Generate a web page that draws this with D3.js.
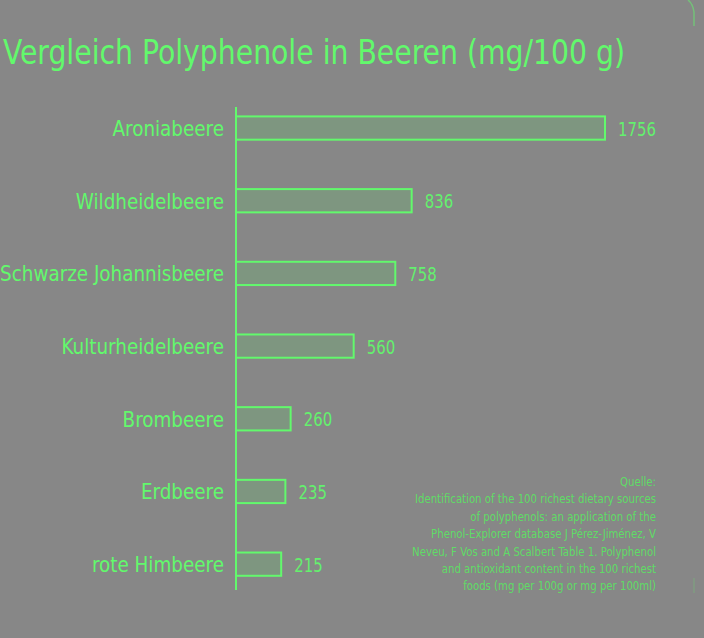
<!DOCTYPE html>
<html><head><meta charset="utf-8">
<script src="https://cdn.jsdelivr.net/npm/d3@7"></script>
<style>
html,body{margin:0;padding:0;background:#878787;}
svg{display:block;}
text{font-family:"DejaVu Sans Condensed","DejaVu Sans",sans-serif;}
</style></head>
<body>
<svg id="chart" width="704" height="638"></svg>
<script>
const title = "Vergleich Polyphenole in Beeren (mg/100 g)";
const categories = ["Aroniabeere","Wildheidelbeere","Schwarze Johannisbeere","Kulturheidelbeere","Brombeere","Erdbeere","rote Himbeere"];
const values = [1756, 836, 758, 560, 260, 235, 215];
const sourceLines = [
  "Quelle:",
  "Identification of the 100 richest dietary sources",
  "of polyphenols: an application of the",
  "Phenol-Explorer database J Pérez-Jiménez, V",
  "Neveu, F Vos and A Scalbert Table 1. Polyphenol",
  "and antioxidant content in the 100 richest",
  "foods (mg per 100g or mg per 100ml)"
];

const green = "#62f96c";
const svg = d3.select("#chart");
const x0 = 236;
const x = d3.scaleLinear().domain([0, 1756]).range([x0, 605]);
const y = d3.scaleBand().domain(categories).range([91.7, 600.5]).paddingInner(0.68).paddingOuter(0.34);

// squeeze a selection of texts horizontally so that the reference text fits the given width
function squeeze(sel, refNode, w){
  const f = w / refNode.getComputedTextLength();
  sel.each(function(){ const n=this; const l=n.getComputedTextLength(); d3.select(n).attr("textLength", l*f).attr("lengthAdjust","spacingAndGlyphs"); });
}

// decorative frame marks
svg.append("path").attr("d","M688,0 Q693,4 694,12 L694,26").attr("fill","none").attr("stroke",green).attr("stroke-opacity",0.5).attr("stroke-width",1.5);
svg.append("line").attr("x1",694).attr("x2",694).attr("y1",578).attr("y2",593).attr("stroke",green).attr("stroke-opacity",0.3);

const t = svg.append("text").attr("x",3).attr("y",64).attr("font-size",33).attr("fill",green).text(title);
squeeze(t, t.node(), 622);

// bars
svg.selectAll("rect.bar").data(values).join("rect").attr("class","bar")
  .attr("x", x0).attr("y",(d,i)=>y(categories[i]))
  .attr("width", d=>x(d)-x0).attr("height", y.bandwidth())
  .attr("fill","#7e9680").attr("stroke",green).attr("stroke-width",2);

// axis line
svg.append("line").attr("x1",x0).attr("x2",x0).attr("y1",107).attr("y2",590).attr("stroke",green).attr("stroke-width",2);

// category labels
const cl = svg.selectAll("text.cat").data(categories).join("text").attr("class","cat")
  .attr("x",224).attr("y",d=>y(d)+y.bandwidth()/2).attr("dy","0.36em")
  .attr("text-anchor","end").attr("font-size",22).attr("fill",green).text(d=>d);
squeeze(cl, cl.filter(d=>d==="Schwarze Johannisbeere").node(), 224);

// value labels
const vl = svg.selectAll("text.val").data(values).join("text").attr("class","val")
  .attr("x",d=>x(d)+13).attr("y",(d,i)=>y(categories[i])+y.bandwidth()/2).attr("dy","0.38em")
  .attr("font-size",20).attr("fill",green).attr("opacity",0.92).text(d=>d);
squeeze(vl, vl.filter(d=>d===1756).node(), 38);

// source
const src = svg.selectAll("text.src").data(sourceLines).join("text").attr("class","src")
  .attr("x",656).attr("y",(d,i)=>486+i*17.4).attr("text-anchor","end")
  .attr("font-size",13).attr("fill","#5fdc66").text(d=>d);
squeeze(src, src.filter((d,i)=>i===1).node(), 241);
</script>
</body></html>
